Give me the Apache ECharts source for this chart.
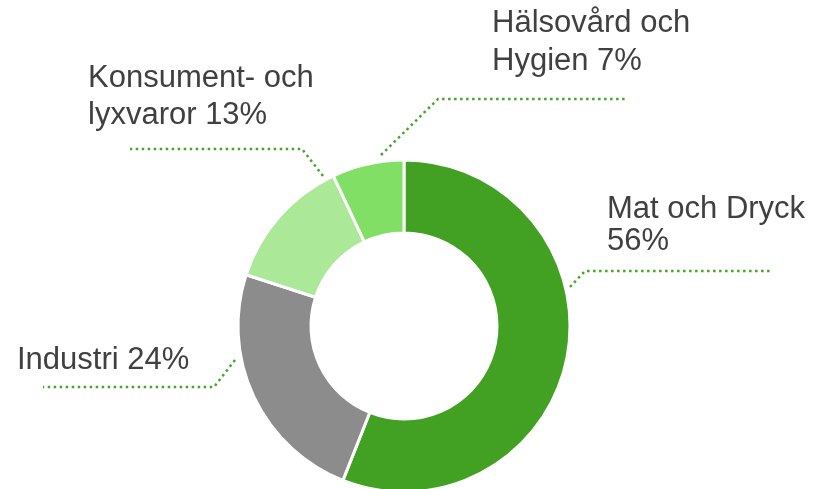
<!DOCTYPE html>
<html>
<head>
<meta charset="utf-8">
<script src="https://cdn.jsdelivr.net/npm/echarts@6/dist/echarts.min.js"></script>
<style>
  html, body { margin: 0; padding: 0; background: #fff; }
  #chart { width: 817px; height: 489px; }
</style>
</head>
<body>
<div id="chart"></div>
<script>
// sectors, clockwise from 12 o'clock
const categories = ['Mat och Dryck', 'Industri', 'Konsument- och lyxvaror', 'Hälsovård och Hygien'];
const values = [56, 24, 13, 7];
// where each label wraps to a second line
const wrapAfter = ['Mat och Dryck', null, 'Konsument- och', 'Hälsovård och'];

const colors = ['#42a123', '#8c8c8c', '#abe897', '#80df64'];

// label box (top-left) and dotted leader: [start, elbow, end]
const labelPos = [
  { x: 607, y: 193, lh: 32, line: [[570, 287], [585, 271], [772, 271]] },
  { x: 17, y: 342, lh: 37, line: [[235, 360], [214, 387], [43, 387]] },
  { x: 88, y: 60, lh: 37, line: [[323, 176], [302, 149], [130, 149]] },
  { x: 492, y: 5, lh: 37.5, line: [[381, 155], [438, 99], [626, 99]] }
];

const chart = echarts.init(document.getElementById('chart'));

chart.setOption({
  animation: false,
  series: [{
    type: 'pie',
    center: [404, 326],
    radius: [93, 166],
    startAngle: 90,
    clockwise: true,
    itemStyle: {
      borderColor: '#fff',
      borderWidth: 3
    },
    label: {
      show: true,
      overflow: 'none',
      fontFamily: 'Liberation Sans',
      fontSize: 31,
      color: '#404040',
      lineHeight: 37,
      formatter: p => {
        const text = p.name + ' ' + p.value + '%';
        const w = wrapAfter[p.dataIndex];
        return w ? w + '\n' + text.slice(w.length + 1) : text;
      }
    },
    labelLine: {
      show: true,
      lineStyle: {
        color: '#44a52a',
        width: 2.5,
        type: [2.5, 3.5]
      }
    },
    labelLayout: p => {
      const pos = labelPos[p.dataIndex];
      return {
        x: pos.x,
        y: pos.y,
        align: 'left',
        verticalAlign: 'top',
        labelLinePoints: pos.line
      };
    },
    data: categories.map((name, i) => ({
      name: name,
      value: values[i],
      itemStyle: { color: colors[i] },
      label: { lineHeight: labelPos[i].lh }
    }))
  }]
});
</script>
</body>
</html>
